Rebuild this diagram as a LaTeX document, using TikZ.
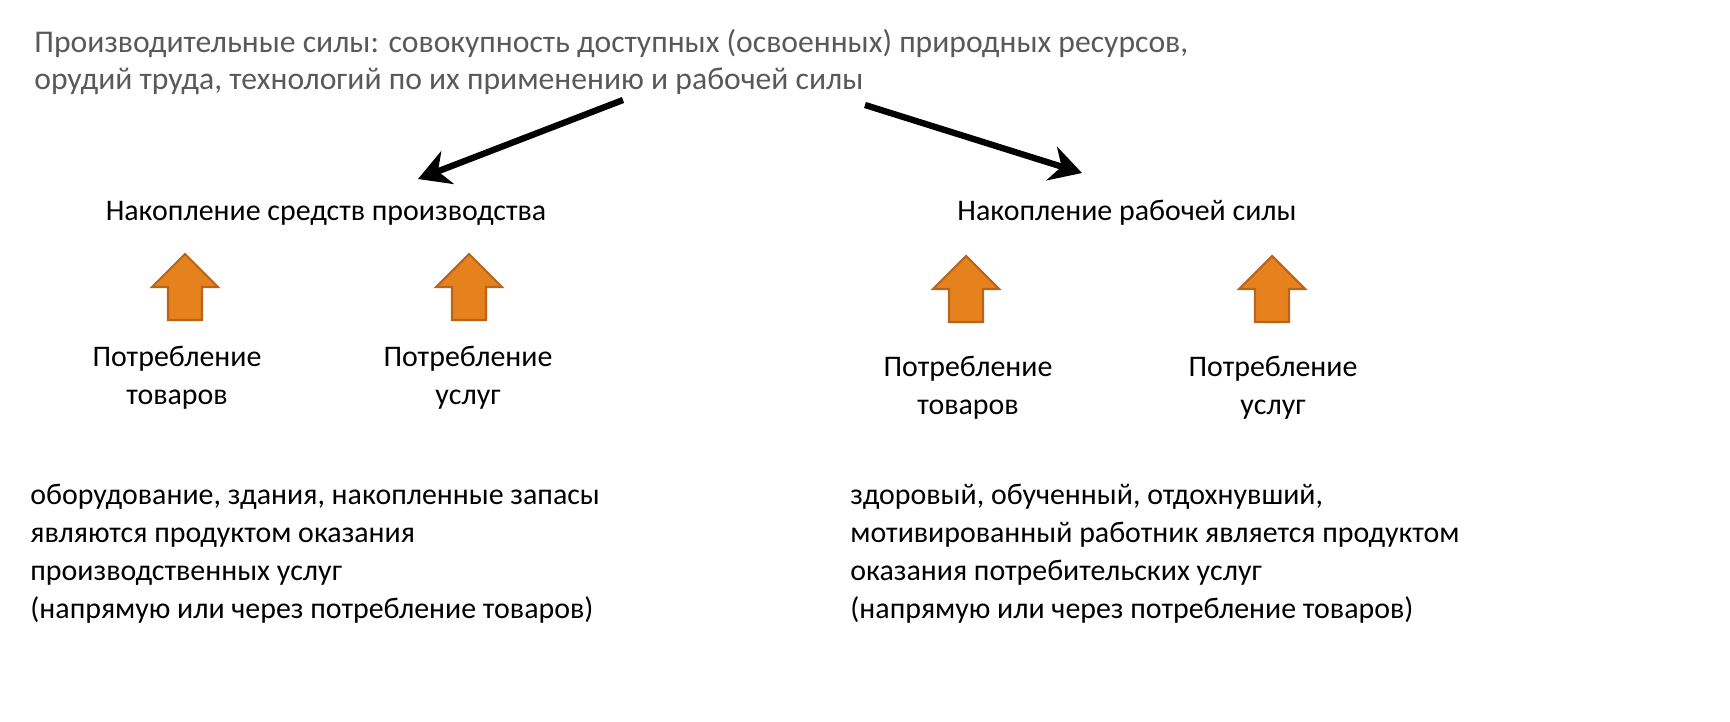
\documentclass[tikz,border=0pt]{standalone}
\usepackage{fontspec}
\setmainfont{Carlito}
\usetikzlibrary{arrows.meta}
\definecolor{titlegray}{HTML}{595959}
\definecolor{blockfill}{HTML}{E6821E}
\definecolor{blockdraw}{HTML}{B8651B}
\tikzset{
	uparrow/.pic={\draw[fill=blockfill, draw=blockdraw, line width=0.6pt]
		(-17,33) -- (-17,0) -- (-33,0) -- (0,-33) -- (33,0) -- (17,0) -- (17,33) -- cycle;},
	txt/.style={align=center, font=\fontsize{8.5}{10.8}\selectfont},
	bigarrow/.style={line width=1.8pt, -{Stealth[length=9pt,width=10pt]}}
}
\begin{document}
\begin{tikzpicture}[x=0.01cm,y=-0.01cm]
	\useasboundingbox (0,0) rectangle (1730,721);
	\node[anchor=west, align=left, text=titlegray, font=\fontsize{9}{10.3}\selectfont] (title) at (22,62) {Производительные силы: совокупность доступных (освоенных) природных ресурсов,\\орудий труда, технологий по их применению и рабочей силы};
	\coordinate (tl) at (623,100);
	\coordinate (tr) at (865,105);
	\coordinate (hl) at (418,179);
	\coordinate (hr) at (1082,173);
	\draw[bigarrow] (tl) -- (hl);
	\draw[bigarrow] (tr) -- (hr);
	\node[txt] (prodmeans) at (326,213) {Накопление средств производства};
	\node[txt] (labour) at (1127,213) {Накопление рабочей силы};
	\pic at (185,287) {uparrow};
	\pic at (469,287) {uparrow};
	\pic at (966,289) {uparrow};
	\pic at (1272,289) {uparrow};
	\node[txt] (goods1) at (177,378) {Потребление\\товаров};
	\node[txt] (serv1) at (468,378) {Потребление\\услуг};
	\node[txt] (goods2) at (968,388) {Потребление\\товаров};
	\node[txt] (serv2) at (1273,388) {Потребление\\услуг};
	\node[txt, align=left, anchor=north west, font=\fontsize{8.5}{10.8}\selectfont] (noteleft) at (18,472) {оборудование, здания, накопленные запасы\\являются продуктом оказания\\производственных услуг\\(напрямую или через потребление товаров)};
	\node[txt, align=left, anchor=north west, font=\fontsize{8.5}{10.8}\selectfont] (noteright) at (838,472) {здоровый, обученный, отдохнувший,\\мотивированный работник является продуктом\\оказания потребительских услуг\\(напрямую или через потребление товаров)};
\end{tikzpicture}
\end{document}
